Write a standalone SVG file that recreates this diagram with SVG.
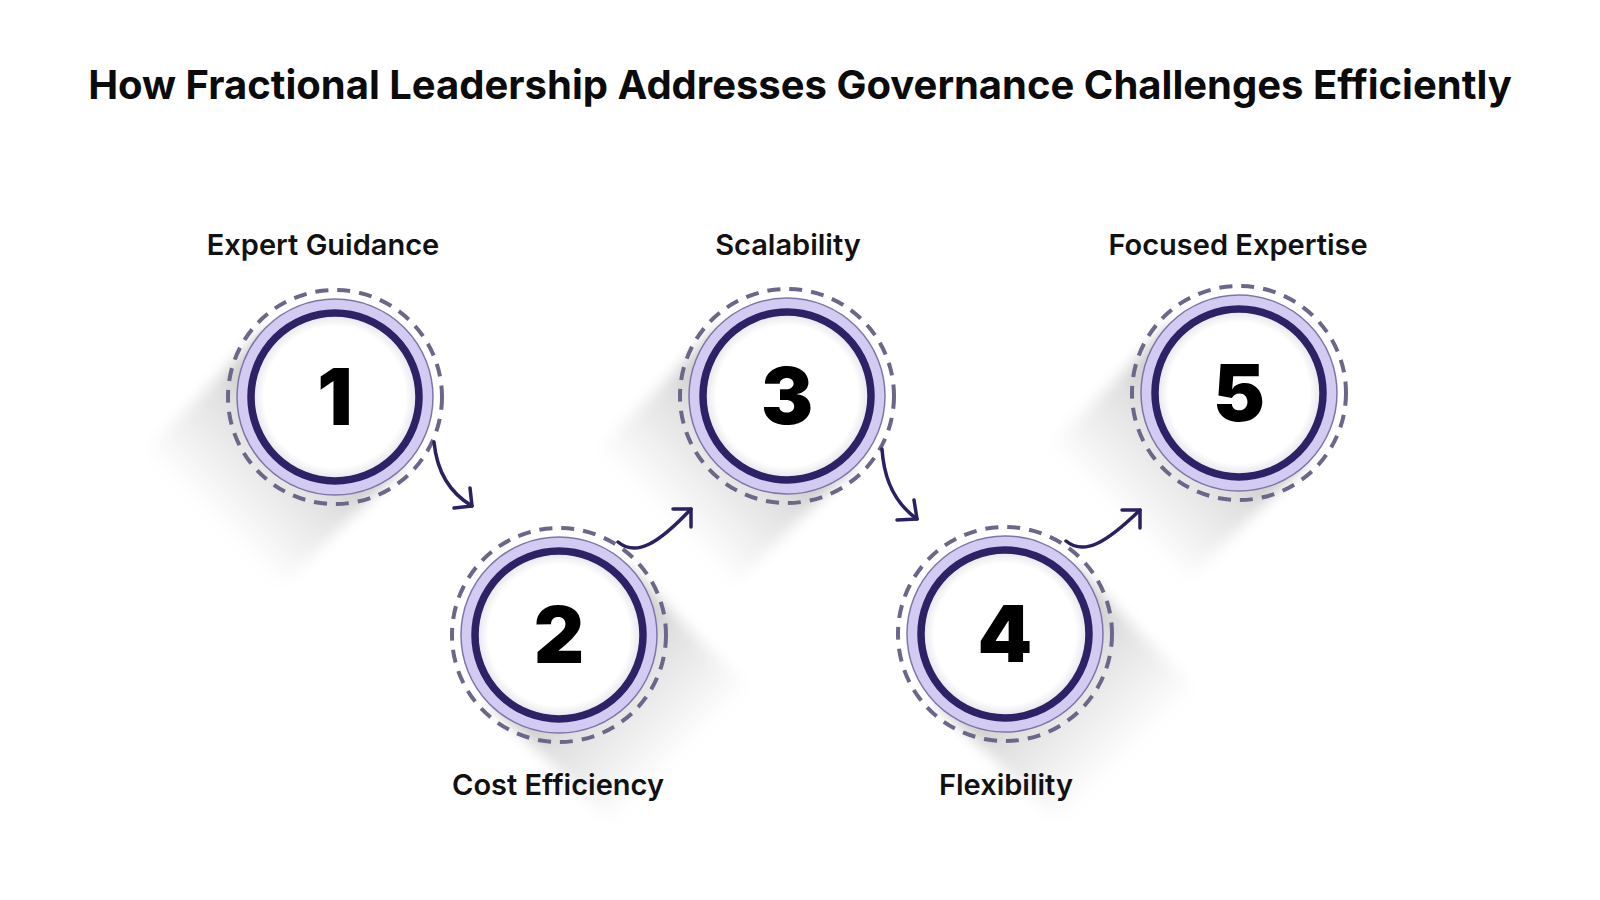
<svg xmlns="http://www.w3.org/2000/svg" width="1600" height="900" viewBox="0 0 1600 900">
<style>
  .title{font-family:Inter,"Liberation Sans",sans-serif;font-weight:700;font-size:40px;fill:#0b0b0b;text-anchor:middle}
  .lbl{font-family:Inter,"Liberation Sans",sans-serif;font-weight:600;font-size:29px;fill:#111;text-anchor:middle}
  .num{font-family:Inter,"Liberation Sans",sans-serif;font-weight:900;font-size:78px;fill:#000;text-anchor:middle}
  .dash{fill:none;stroke:#6c6788;stroke-width:4;stroke-dasharray:13 9}
  .halo{fill:#d3cbf2;stroke:#7f76a8;stroke-width:1.5}
  .ring{fill:url(#inner);stroke:#2e2266;stroke-width:7.5}
  .conn{fill:none;stroke:#2b2160;stroke-width:3.5;stroke-linecap:round;stroke-linejoin:round}
</style>
<defs>
  <filter id="blur" x="-50%" y="-50%" width="200%" height="200%">
    <feGaussianBlur stdDeviation="7"/>
  </filter>
  <linearGradient id="shGrad" x1="0" y1="0" x2="0" y2="1">
    <stop offset="0" stop-color="#000" stop-opacity="0.3"/>
    <stop offset="0.45" stop-color="#000" stop-opacity="0.12"/>
    <stop offset="1" stop-color="#000" stop-opacity="0"/>
  </linearGradient>
  <radialGradient id="inner" cx="0.5" cy="0.5" r="0.5">
    <stop offset="0.84" stop-color="#ffffff"/>
    <stop offset="1" stop-color="#e2e1e8"/>
  </radialGradient>
</defs>
<rect width="1600" height="900" fill="#ffffff"/>
<text class="title" x="800" y="99">How Fractional Leadership Addresses Governance Challenges Efficiently</text>

<g id="node1">
  <g transform="translate(335,397) rotate(45)" filter="url(#blur)"><rect x="-96" y="0" width="192" height="175" fill="url(#shGrad)"/></g>
  <g transform="translate(335,397)">
    <circle r="107" class="dash"/>
    <circle r="98" class="halo"/>
    <circle r="84" class="ring"/>
    <text class="num" y="28">1</text>
  </g>
  <text class="lbl" x="323" y="255">Expert Guidance</text>
</g>

<g id="node2">
  <g transform="translate(559,635) rotate(-45)" filter="url(#blur)"><rect x="-96" y="0" width="192" height="175" fill="url(#shGrad)"/></g>
  <g transform="translate(559,635)">
    <circle r="107" class="dash"/>
    <circle r="98" class="halo"/>
    <circle r="84" class="ring"/>
    <text class="num" y="28">2</text>
  </g>
  <text class="lbl" x="558" y="795">Cost Efficiency</text>
</g>

<g id="node3">
  <g transform="translate(787,396) rotate(45)" filter="url(#blur)"><rect x="-96" y="0" width="192" height="175" fill="url(#shGrad)"/></g>
  <g transform="translate(787,396)">
    <circle r="107" class="dash"/>
    <circle r="98" class="halo"/>
    <circle r="84" class="ring"/>
    <text class="num" y="28">3</text>
  </g>
  <text class="lbl" x="788" y="255">Scalability</text>
</g>

<g id="node4">
  <g transform="translate(1005,634) rotate(-45)" filter="url(#blur)"><rect x="-96" y="0" width="192" height="175" fill="url(#shGrad)"/></g>
  <g transform="translate(1005,634)">
    <circle r="107" class="dash"/>
    <circle r="98" class="halo"/>
    <circle r="84" class="ring"/>
    <text class="num" y="28">4</text>
  </g>
  <text class="lbl" x="1006" y="795">Flexibility</text>
</g>

<g id="node5">
  <g transform="translate(1239,393) rotate(45)" filter="url(#blur)"><rect x="-96" y="0" width="192" height="175" fill="url(#shGrad)"/></g>
  <g transform="translate(1239,393)">
    <circle r="107" class="dash"/>
    <circle r="98" class="halo"/>
    <circle r="84" class="ring"/>
    <text class="num" y="28">5</text>
  </g>
  <text class="lbl" x="1238" y="255">Focused Expertise</text>
</g>

<g id="connectors" class="conn">
  <path class="conn" d="M 434 442 C 437 473, 450 493, 472 506"/>
  <path class="conn" d="M 470 488 L 472 506 L 454 508"/>
  <path class="conn" d="M 618 542 C 636 557, 658 544, 691 509"/>
  <path class="conn" d="M 673 509 L 691 509 L 691 527"/>
  <path class="conn" d="M 882 449 C 884 481, 896 504, 917 519"/>
  <path class="conn" d="M 914 500 L 917 519 L 897 520"/>
  <path class="conn" d="M 1066 541 C 1084 556, 1106 543, 1140 510"/>
  <path class="conn" d="M 1122 510 L 1140 510 L 1140 528"/>
</g>
</svg>
